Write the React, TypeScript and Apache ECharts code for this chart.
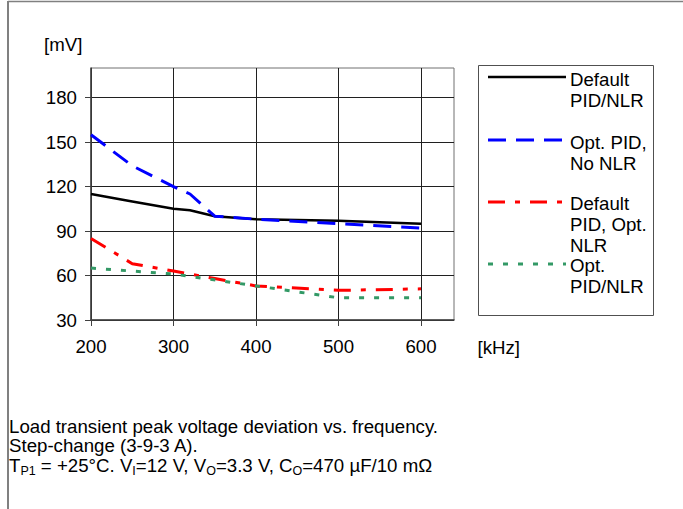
import React, { useEffect, useRef } from 'react';
import * as echarts from 'echarts';

// ---- data ----
const seriesNames = ['Default PID/NLR', 'Opt. PID, No NLR', 'Default PID, Opt. NLR', 'Opt. PID/NLR'];
const legendLabels = ['Default\nPID/NLR', 'Opt. PID,\nNo NLR', 'Default\nPID, Opt.\nNLR', 'Opt.\nPID/NLR'];

const defaultFreq = [200, 250, 300, 320, 350, 400, 500, 600];
const defaultVals = [115, 110, 105, 104, 100, 98, 97, 95];
const optPidFreq = [200, 250, 300, 320, 350, 400, 500, 600];
const optPidVals = [155, 134, 120, 115, 100, 98, 95, 92];
const optNlrFreq = [200, 250, 300, 350, 400, 500, 600];
const optNlrVals = [85, 68, 63, 58, 53, 50, 51];
const optBothFreq = [200, 300, 400, 500, 600];
const optBothVals = [65, 61, 53, 45, 45];

const xTicks = [200, 300, 400, 500, 600];
const yTicks = [30, 60, 90, 120, 150, 180];
const xUnit = '[kHz]';
const yUnit = '[mV]';

const captionLines = [
  'Load transient peak voltage deviation vs. frequency.',
  'Step-change (3-9-3 A).',
];
// third caption line: [text, isSubscript]
const captionLine3: [string, boolean][] = [
  ['T', false],
  ['P1', true],
  [' = +25°C. V', false],
  ['I', true],
  ['=12 V, V', false],
  ['O', true],
  ['=3.3 V, C', false],
  ['O', true],
  ['=470 µF/10 mΩ', false],
];

const colors = ['#000000', '#0000FF', '#FF0000', '#339966'];
const widths = [2.5, 3, 3, 3];
const dashes: (number[] | null)[] = [null, [18, 10], [17, 10, 5, 10], [5, 10]];

const FONT = '"Liberation Sans", Arial, sans-serif';
const FS = 18.67;

function zip(xs: number[], ys: number[]) {
  return xs.map((x, i) => [x, ys[i]]);
}

export default function App() {
  const ref = useRef<HTMLDivElement>(null);
  useEffect(() => {
    if (!ref.current) return;
    const chart = echarts.init(ref.current, null, { renderer: 'svg' });
    const data = [
      zip(defaultFreq, defaultVals),
      zip(optPidFreq, optPidVals),
      zip(optNlrFreq, optNlrVals),
      zip(optBothFreq, optBothVals),
    ];

    const legendLineY = [77, 140, 202, 264];
    const legendTextTop = [68.5, 131.5, 193, 254.5];
    const legendEls: any[] = [
      {
        type: 'rect',
        shape: { x: 478.5, y: 65.5, width: 175, height: 250 },
        style: { fill: '#fff', stroke: '#505050', lineWidth: 1 },
        z: 10,
      },
    ];
    seriesNames.forEach((_, i) => {
      legendEls.push({
        type: 'line',
        shape: { x1: 488, y1: legendLineY[i], x2: 566, y2: legendLineY[i] },
        style: {
          stroke: colors[i],
          lineWidth: widths[i],
          lineDash: dashes[i] || undefined,
        },
        z: 11,
      });
      legendEls.push({
        type: 'text',
        x: 570,
        y: legendTextTop[i],
        style: {
          text: legendLabels[i],
          fontSize: FS,
          fontFamily: FONT,
          fill: '#000',
          align: 'left',
          verticalAlign: 'top',
          lineHeight: 21,
        },
        z: 11,
      });
    });

    const richText = captionLine3
      .map(([t, sub]) => `{${sub ? 's' : 'm'}|${t}}`)
      .join('');

    chart.setOption({
      animation: false,
      backgroundColor: '#fff',
      grid: {
        left: 91,
        top: 68,
        width: 363,
        height: 252,
        show: true,
        borderColor: '#707070',
        borderWidth: 1,
        backgroundColor: 'transparent',
      },
      xAxis: {
        type: 'value',
        min: 200,
        max: 640,
        interval: 100,
        axisLine: { show: true, onZero: false, lineStyle: { color: '#404040', width: 1.5 } },
        axisTick: { show: true, length: 6, customValues: xTicks, lineStyle: { color: '#404040' } },
        axisLabel: {
          customValues: xTicks,
          margin: 17,
          fontSize: FS,
          fontFamily: FONT,
          color: '#000',
        },
        splitLine: { show: true, lineStyle: { color: '#202020', width: 1 } },
      },
      yAxis: {
        type: 'value',
        min: 30,
        max: 200,
        interval: 30,
        axisLine: { show: true, onZero: false, lineStyle: { color: '#404040', width: 1.5 } },
        axisTick: { show: true, length: 6, customValues: yTicks, lineStyle: { color: '#404040' } },
        axisLabel: {
          customValues: yTicks,
          margin: 14,
          fontSize: FS,
          fontFamily: FONT,
          color: '#000',
        },
        splitLine: { show: true, lineStyle: { color: '#202020', width: 1 } },
      },
      series: seriesNames.map((name, i) => ({
        name,
        type: 'line',
        data: data[i],
        symbol: 'none',
        smooth: false,
        lineStyle: {
          color: colors[i],
          width: widths[i],
          type: dashes[i] || 'solid',
          cap: 'butt',
        },
        z: 3 + i,
      })),
      graphic: [
        // outer frame (top and left only)
        {
          type: 'line',
          shape: { x1: 8, y1: 1.5, x2: 683, y2: 1.5 },
          style: { stroke: '#808080', lineWidth: 1.5 },
        },
        {
          type: 'line',
          shape: { x1: 8, y1: 1, x2: 8, y2: 509 },
          style: { stroke: '#808080', lineWidth: 2 },
        },
        {
          type: 'text',
          x: 44,
          y: 44,
          style: {
            text: yUnit,
            fontSize: FS,
            fontFamily: FONT,
            fill: '#000',
            align: 'left',
            verticalAlign: 'middle',
          },
        },
        {
          type: 'text',
          x: 477.5,
          y: 347.5,
          style: {
            text: xUnit,
            fontSize: FS,
            fontFamily: FONT,
            fill: '#000',
            align: 'left',
            verticalAlign: 'middle',
          },
        },
        ...legendEls,
        {
          type: 'text',
          x: 9,
          y: 417,
          style: {
            text: captionLines.join('\n'),
            fontSize: FS,
            fontFamily: FONT,
            fill: '#000',
            align: 'left',
            verticalAlign: 'top',
            lineHeight: 19,
          },
        },
        {
          type: 'text',
          x: 9,
          y: 465,
          style: {
            text: richText,
            fill: '#000',
            align: 'left',
            verticalAlign: 'middle',
            rich: {
              m: { fontSize: FS, fontFamily: FONT, lineHeight: 24, fill: '#000' },
              s: { fontSize: 12.5, fontFamily: FONT, lineHeight: 12, verticalAlign: 'bottom', fill: '#000' },
            },
          },
        },
      ],
    });
    return () => chart.dispose();
  }, []);
  return (
    <div
      ref={ref}
      style={{ position: 'absolute', left: 0, top: 0, width: 683, height: 509 }}
    />
  );
}
